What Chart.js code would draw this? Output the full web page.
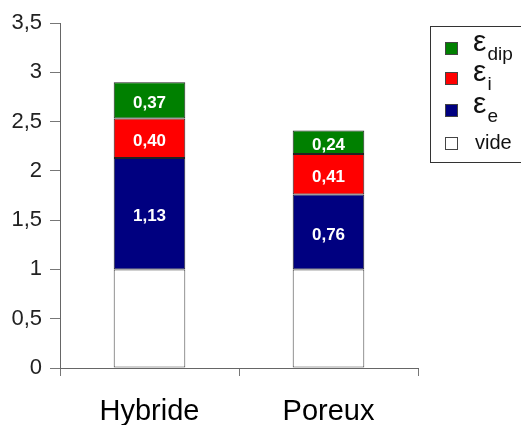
<!DOCTYPE html>
<html>
<head>
<meta charset="utf-8">
<script src="https://cdn.jsdelivr.net/npm/chart.js@4"></script>
<style>
  html, body { margin: 0; padding: 0; background: #fff; }
  #wrap { position: relative; width: 521px; height: 425px; }
  #legend {
    position: absolute; left: 430px; top: 26px; width: 100px; height: 137px;
    border: 1px solid #333; box-sizing: border-box; background: #fff;
    font-family: "Liberation Sans", Arial, sans-serif; color: #111;
  }
  .item { position: absolute; left: 14px; height: 30px; }
  .sw { position: absolute; left: 0; width: 13px; height: 13px; border: 1px solid #444; box-sizing: border-box; }
  .lab { position: absolute; left: 28px; white-space: nowrap; }
  .eps { font-size: 30px; }
  .eps sub { font-size: 19px; vertical-align: -9px; margin-left: 1px; }
  .plain { font-size: 20px; }
</style>
</head>
<body>
<div id="wrap">
  <canvas id="chart" width="521" height="425"></canvas>
  <div id="legend"></div>
</div>
<script>
const categories = ["Hybride", "Poreux"];
const vide = [1, 1];
const epsE = [1.13, 0.76];
const epsI = [0.40, 0.41];
const epsDip = [0.37, 0.24];
const yTicks = [0, 0.5, 1, 1.5, 2, 2.5, 3, 3.5];

const comma = (v, d) => v.toFixed(d).replace(".", ",");

// values written inside the coloured segments
const valueLabels = {
    id: "valueLabels",
    afterDatasetsDraw(chart) {
        const ctx = chart.ctx;
        ctx.save();
        ctx.fillStyle = "#fff";
        ctx.font = "bold 17px 'Liberation Sans', Arial, sans-serif";
        ctx.textAlign = "center";
        ctx.textBaseline = "middle";
        chart.data.datasets.forEach((ds, i) => {
            if (!ds.showValue) return;
            chart.getDatasetMeta(i).data.forEach((bar, j) => {
                const y = (bar.y + bar.base) / 2 + 3;
                ctx.fillText(comma(ds.data[j], 2), bar.x, y);
            });
        });
        ctx.restore();
    }
};

const datasets = [
    { label: "vide", data: vide, backgroundColor: "#ffffff", borderColor: "#444", showValue: false },
    { label: "ε|e", data: epsE, backgroundColor: "#000080", borderColor: "#222", showValue: true },
    { label: "ε|i", data: epsI, backgroundColor: "#ff0000", borderColor: "#222", showValue: true },
    { label: "ε|dip", data: epsDip, backgroundColor: "#008000", borderColor: "#222", showValue: true }
];
datasets.forEach(d => { d.borderWidth = 1; d.borderSkipped = false; });

new Chart(document.getElementById("chart"), {
    type: "bar",
    data: { labels: categories, datasets: datasets },
    plugins: [valueLabels],
    options: {
        responsive: false,
        animation: false,
        layout: { padding: { top: 23, right: 103, left: 0, bottom: 0 } },
        categoryPercentage: 0.8,
        barPercentage: 0.5,
        plugins: { legend: { display: false }, tooltip: { enabled: false } },
        scales: {
            x: {
                stacked: true,
                grid: { drawOnChartArea: false, drawTicks: true, tickLength: 8, color: "#777", offset: true },
                border: { display: true, color: "#666", width: 1 },
                ticks: { color: "#000", padding: 19, font: { size: 29, family: "'Liberation Sans', Arial, sans-serif" } },
                afterFit: s => { s.height = 57; }
            },
            y: {
                stacked: true,
                min: 0, max: 3.5,
                afterBuildTicks: s => { s.ticks = yTicks.map(v => ({ value: v })); },
                grid: { drawOnChartArea: false, drawTicks: true, tickLength: 10, color: "#777" },
                border: { display: true, color: "#666", width: 1 },
                ticks: {
                    color: "#222", padding: 8,
                    font: { size: 22, family: "'Liberation Sans', Arial, sans-serif" },
                    callback: v => comma(v, Number.isInteger(v) ? 0 : 1)
                },
                afterFit: s => { s.width = 60; }
            }
        }
    }
});

// legend with subscripts, top entry = last dataset
const legend = document.getElementById("legend");
const rows = datasets.slice().reverse();
const rowTops = [14, 44, 76, 109];
rows.forEach((ds, i) => {
    const parts = ds.label.split("|");
    const item = document.createElement("div");
    item.className = "item";
    item.style.top = rowTops[i] + "px";
    const sw = document.createElement("div");
    sw.className = "sw";
    sw.style.background = ds.backgroundColor;
    sw.style.top = "1px";
    const lab = document.createElement("div");
    lab.className = "lab";
    if (parts.length > 1) {
        lab.classList.add("eps");
        lab.style.top = "-17px";
        lab.innerHTML = parts[0] + "<sub>" + parts[1] + "</sub>";
    } else {
        lab.classList.add("plain");
        lab.style.top = "-5px";
        lab.style.left = "30px";
        lab.textContent = parts[0];
    }
    item.appendChild(sw);
    item.appendChild(lab);
    legend.appendChild(item);
});
</script>
</body>
</html>
